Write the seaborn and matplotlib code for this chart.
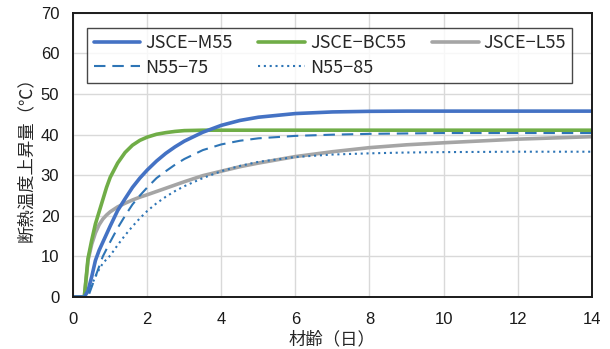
import matplotlib
matplotlib.use("Agg")
import matplotlib.pyplot as plt
import seaborn as sns
import pandas as pd

# 材齢(日)
t_days = [0, 0.3, 0.4, 0.5, 0.6, 0.7, 0.8, 0.9, 1.0, 1.2, 1.4, 1.6, 1.8, 2.0,
          2.25, 2.5, 2.75, 3.0, 3.5, 4.0, 4.5, 5.0, 6.0, 7.0, 8.0, 9.0, 10.0,
          12.0, 14.0]

# 断熱温度上昇量(℃)
jsce_m55 = [0, 0, 1.5, 5.0, 9.0, 11.5, 13.5, 15.5, 17.5, 21.3, 24.2, 27.0, 29.3,
            31.3, 33.5, 35.4, 37.0, 38.4, 40.6, 42.3, 43.5, 44.3, 45.2, 45.6,
            45.75, 45.8, 45.8, 45.8, 45.8]
jsce_bc55 = [0, 0, 9.5, 14.0, 18.0, 21.0, 24.0, 27.0, 29.5, 33.0, 35.6, 37.4,
             38.6, 39.4, 40.1, 40.5, 40.8, 41.0, 41.1, 41.1, 41.1, 41.1, 41.1,
             41.1, 41.1, 41.1, 41.1, 41.1, 41.1]
jsce_l55 = [0, 0, 9.0, 13.0, 15.8, 17.8, 19.2, 20.2, 21.0, 22.2, 23.1, 23.9,
            24.6, 25.2, 26.0, 26.8, 27.6, 28.4, 29.9, 31.0, 32.1, 33.0, 34.6,
            35.8, 36.8, 37.5, 38.0, 38.9, 39.5]
n55_75 = [0, 0, 0, 2.5, 5.0, 7.5, 10.0, 11.8, 13.6, 17.0, 20.0, 22.8, 25.0,
          27.0, 29.3, 31.0, 32.6, 34.0, 36.2, 37.6, 38.5, 39.1, 39.7, 40.0,
          40.2, 40.3, 40.4, 40.4, 40.4]
n55_85 = [0, 0, 1.0, 3.0, 5.0, 6.8, 8.3, 9.3, 10.2, 12.8, 15.2, 17.4, 19.4,
          21.2, 23.1, 24.7, 26.1, 27.3, 29.3, 31.0, 32.3, 33.3, 34.5, 35.1,
          35.4, 35.6, 35.7, 35.8, 35.8]

series = [
    ("JSCE-M55", jsce_m55, "#4472C4", "-", 2.6),
    ("N55-75", n55_75, "#2E75B6", (0, (5.5, 3.3)), 1.5),
    ("JSCE-BC55", jsce_bc55, "#70AD47", "-", 2.6),
    ("N55-85", n55_85, "#2E75B6", (0, (1, 1.8)), 1.5),
    ("JSCE-L55", jsce_l55, "#A5A5A5", "-", 2.6),
]

sns.set_style("white")
plt.rcParams["font.family"] = ["Liberation Sans", "Noto Sans CJK JP"]
jp = ["Noto Sans CJK JP", "DejaVu Sans"]

fig, ax = plt.subplots(figsize=(6.1, 3.49), dpi=100)
fig.subplots_adjust(left=0.12, right=0.97, bottom=0.149, top=0.963)

# thick lines first so the thin ones sit on top
draw_order = ["JSCE-L55", "JSCE-BC55", "JSCE-M55", "N55-75", "N55-85"]
lines = {}
for name in draw_order:
    _, vals, color, ls, lw = next(s for s in series if s[0] == name)
    df = pd.DataFrame({"t": t_days, "q": vals})
    sns.lineplot(data=df, x="t", y="q", ax=ax, color=color, linewidth=lw,
                 linestyle=ls, label=name, legend=False)
    lines[name] = ax.get_lines()[-1]
    lines[name].set_solid_joinstyle("round")

ax.set_xlim(0, 14)
ax.set_ylim(0, 70)
ax.set_xticks(range(0, 15, 2))
ax.set_yticks(range(0, 71, 10))
ax.grid(True, color="#D9D9D9", linewidth=1.0)
ax.set_axisbelow(True)
for sp in ax.spines.values():
    sp.set_color("#1a1a1a")
    sp.set_linewidth(1.4)
ax.tick_params(axis="both", direction="in", length=4, width=1.2,
               labelsize=12, colors="#1a1a1a")
ax.tick_params(axis="x", pad=11)
ax.tick_params(axis="y", pad=10)

ax.set_xlabel("材齢（日）", fontsize=12.5, family=jp, labelpad=2.5)
ax.set_ylabel("断熱温度上昇量（℃）", fontsize=12.5, family=jp, labelpad=4)

handles = [lines[s[0]] for s in series]
labels = [s[0].replace("-", "−") for s in series]
leg = ax.legend(handles, labels, ncol=3, loc="upper left",
                bbox_to_anchor=(0.027, 0.947), borderaxespad=0,
                frameon=True, fancybox=False, edgecolor="#1a1a1a",
                handlelength=2.6, handletextpad=0.28, columnspacing=1.4,
                labelspacing=0.35, borderpad=0.35,
                prop={"family": jp, "size": 13})
leg.get_frame().set_linewidth(1.0)

fig.savefig("out.png", dpi=100)
